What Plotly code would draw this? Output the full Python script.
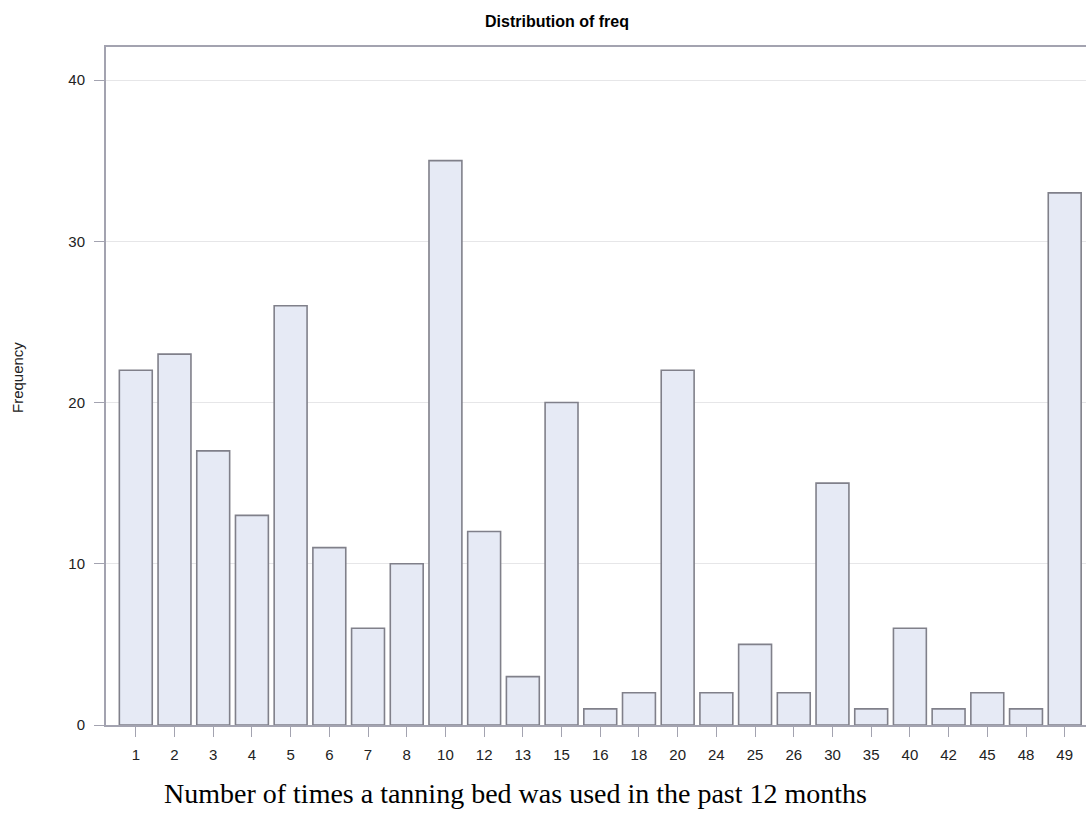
import plotly.graph_objects as go

categories = ["1", "2", "3", "4", "5", "6", "7", "8", "10", "12", "13", "15", "16",
              "18", "20", "24", "25", "26", "30", "35", "40", "42", "45", "48", "49"]
counts = [22, 23, 17, 13, 26, 11, 6, 10, 35, 12, 3, 20, 1,
          2, 22, 2, 5, 2, 15, 1, 6, 1, 2, 1, 33]
y_ticks = [0, 10, 20, 30, 40]

W, H = 1086, 816
L, R, T = 106, 0, 47
PLOT_BOTTOM = 725
B = H - PLOT_BOTTOM

fig = go.Figure()
fig.add_trace(go.Bar(
    x=list(range(len(categories))),
    y=counts,
    width=0.85,
    marker=dict(color="#e6eaf5", line=dict(color="#80808a", width=1.6)),
    hoverinfo="x+y",
))

axis_col = "#a3a3b0"
fig.update_layout(
    width=W, height=H,
    paper_bgcolor="white", plot_bgcolor="white",
    margin=dict(l=L, r=R, t=T, b=B),
    showlegend=False,
    title=dict(text="<b>Distribution of freq</b>", x=557 / W, xanchor="center",
               y=1 - 21 / H, yanchor="middle",
               font=dict(family="Liberation Sans, Arial", size=16, color="black")),
    font=dict(family="Liberation Sans, Arial", size=15, color="#222"),
    annotations=[
        dict(text="Number of times a tanning bed was used in the past 12 months",
             xref="paper", yref="paper", x=(515 - L) / (W - L - R),
             y=(PLOT_BOTTOM - 793) / (PLOT_BOTTOM - T),
             xanchor="center", yanchor="middle", showarrow=False,
             font=dict(family="Liberation Serif, Times New Roman", size=28, color="black")),
        dict(text="Frequency", textangle=-90,
             xref="paper", yref="paper", x=(18 - L) / (W - L - R),
             y=(PLOT_BOTTOM - 378) / (PLOT_BOTTOM - T),
             xanchor="center", yanchor="middle", showarrow=False,
             font=dict(family="Liberation Sans, Arial", size=15, color="#222")),
    ],
)
fig.update_xaxes(
    range=[-0.77, 24.55],
    tickmode="array",
    tickvals=list(range(len(categories))),
    ticktext=categories,
    ticks="outside", ticklen=10, tickcolor=axis_col, tickwidth=1,
    ticklabelstandoff=5,
    showline=True, linecolor=axis_col, linewidth=2, mirror=True,
    showgrid=False, zeroline=False,
    tickfont=dict(size=15, color="#222"),
)
fig.update_yaxes(
    range=[0, 42.05],
    tickmode="array", tickvals=y_ticks,
    ticks="outside", ticklen=10, tickcolor=axis_col, tickwidth=1,
    ticklabelstandoff=6,
    showline=True, linecolor=axis_col, linewidth=2, mirror=False,
    showgrid=True, gridcolor="#e6e6e8", gridwidth=1,
    zeroline=False,
    tickfont=dict(size=15, color="#222"),
)

fig.write_html("out.html",
               config={"displayModeBar": False},
               post_script="document.body.style.margin='0';document.body.style.overflow='hidden';")
